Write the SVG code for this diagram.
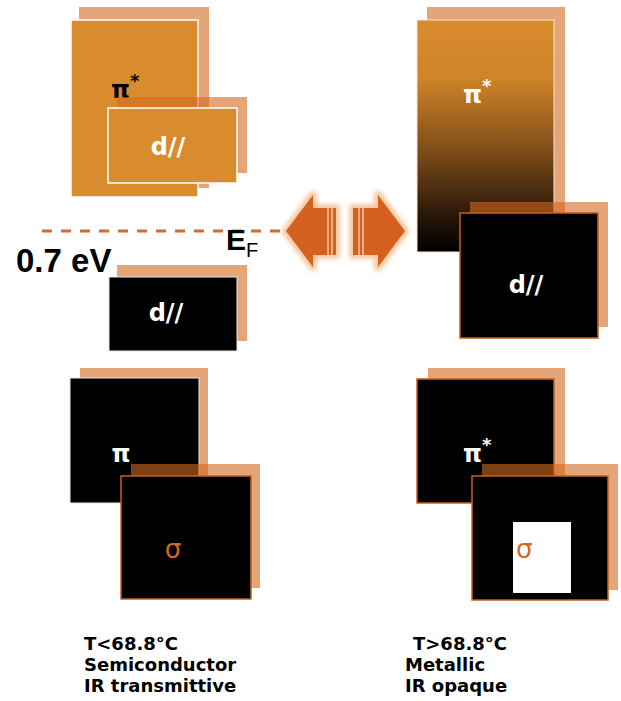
<svg xmlns="http://www.w3.org/2000/svg" width="621" height="701" viewBox="0 0 621 701">
<style>
.shadow{fill:#D2691E;fill-opacity:0.6}
.orange{fill:#D98C2D;stroke:#FFFFFF;stroke-width:1.5}
.black{fill:#000000;stroke:#E8E8E8;stroke-width:1}
.blacko{fill:#000000;stroke:#C8601A;stroke-width:1.5}
.lbl{font-family:"DejaVu Sans",sans-serif;font-weight:bold;font-size:24px;fill:#FFFFFF;text-anchor:middle}
.sig{font-family:"DejaVu Sans",sans-serif;font-size:26px;fill:#D2691E;text-anchor:middle}
.cap{font-family:"DejaVu Sans",sans-serif;font-weight:bold;font-size:18px;fill:#000000}
.arrow{fill:#D5601F}
.glow{fill:none;stroke:#F2B583;stroke-width:8;stroke-linejoin:round;opacity:0.75}
</style>
<defs>
<linearGradient id="grad" x1="0" y1="0" x2="0" y2="1">
<stop offset="0" stop-color="#DA8C2E"/>
<stop offset="0.25" stop-color="#CE8428"/>
<stop offset="0.58" stop-color="#7A4A18"/>
<stop offset="0.84" stop-color="#2A1808"/>
<stop offset="1" stop-color="#000000"/>
</linearGradient>
<filter id="blur" x="-20%" y="-20%" width="140%" height="140%">
<feGaussianBlur stdDeviation="2.2"/>
</filter>
</defs>

<g id="left-pistar">
<rect class="shadow" x="79" y="7" width="130" height="181"/>
<rect class="orange" x="71" y="20" width="127" height="177"/>
<text x="111" y="98" font-family="DejaVu Sans, sans-serif" font-weight="bold" font-size="24" fill="#000">π<tspan font-size="18" dy="-11">*</tspan></text>
</g>

<g id="left-dpar-upper">
<rect class="shadow" x="117" y="97" width="130" height="76"/>
<rect class="orange" x="108" y="108" width="129" height="75"/>
<text class="lbl" x="168" y="155">d//</text>
</g>

<g id="connectors">
<line x1="42" y1="231" x2="286" y2="231" stroke="#D66A2A" stroke-width="3" stroke-dasharray="10 9"/>
</g>

<g id="fermi-label">
<text x="226" y="250" font-family="Liberation Sans, sans-serif" font-weight="bold" font-size="30" fill="#000">E</text>
<text x="246" y="257" font-family="Liberation Sans, sans-serif" font-size="20" fill="#000">F</text>
</g>

<g id="gap-label">
<text x="16" y="272" font-family="Liberation Sans, sans-serif" font-weight="bold" font-size="33" fill="#000">0.7 eV</text>
</g>

<g id="left-dpar-lower">
<rect class="shadow" x="117" y="265" width="130" height="76"/>
<rect class="black" x="109" y="277" width="128" height="74"/>
<text class="lbl" x="166" y="321">d//</text>
</g>

<g id="arrows">
<g filter="url(#blur)">
<path class="glow" d="M286,231 L313,195 L313,208 L336,208 L336,255 L313,255 L313,267 Z"/>
<path class="glow" d="M405,231 L378,195 L378,208 L353,208 L353,255 L378,255 L378,267 Z"/>
</g>
<path class="arrow" d="M286,231 L313,195 L313,208 L336,208 L336,255 L313,255 L313,267 Z"/>
<path class="arrow" d="M405,231 L378,195 L378,208 L353,208 L353,255 L378,255 L378,267 Z"/>
<g stroke="#FBE3CF" stroke-width="1.2">
<line x1="328" y1="208" x2="328" y2="255"/>
<line x1="332" y1="208" x2="332" y2="255"/>
<line x1="359" y1="208" x2="359" y2="255"/>
<line x1="363" y1="208" x2="363" y2="255"/>
</g>
</g>

<g id="right-pistar">
<rect class="shadow" x="427" y="7" width="138" height="233"/>
<rect x="417" y="20" width="137" height="232" fill="url(#grad)" stroke="#F4E6D6" stroke-width="1"/>
<text x="463" y="103" font-family="DejaVu Sans, sans-serif" font-weight="bold" font-size="24" fill="#FFF">π<tspan font-size="18" dy="-11">*</tspan></text>
</g>

<g id="right-dpar">
<rect class="shadow" x="470" y="202" width="138" height="125"/>
<rect class="blacko" x="460" y="213" width="138" height="125"/>
<text class="lbl" x="526" y="293">d//</text>
</g>

<g id="left-pi">
<rect class="shadow" x="80" y="368" width="128" height="125"/>
<rect class="black" x="70" y="378" width="129" height="125"/>
<text x="121" y="462" font-family="DejaVu Sans, sans-serif" font-weight="bold" font-size="24" fill="#FFF" text-anchor="middle">π</text>
</g>

<g id="left-sigma">
<rect class="shadow" x="131" y="464" width="129" height="124"/>
<rect class="blacko" x="121" y="476" width="130" height="123"/>
<text class="sig" x="173" y="558">σ</text>
</g>

<g id="right-pistar-lower">
<rect class="shadow" x="428" y="368" width="137" height="124"/>
<rect class="blacko" x="417" y="379" width="137" height="124"/>
<text x="463" y="462" font-family="DejaVu Sans, sans-serif" font-weight="bold" font-size="24" fill="#FFF">π<tspan font-size="18" dy="-11">*</tspan></text>
</g>

<g id="right-sigma">
<rect class="shadow" x="482" y="464" width="136" height="126"/>
<rect class="blacko" x="472" y="476" width="136" height="124"/>
<rect x="513" y="522" width="58" height="71" fill="#FFFFFF"/>
<text x="516" y="558" font-family="DejaVu Sans, sans-serif" font-size="26" fill="#D2691E">σ</text>
</g>

<g id="caption-left">
<text class="cap" x="84" y="650">T&lt;68.8°C</text>
<text class="cap" x="84" y="671">Semiconductor</text>
<text class="cap" x="84" y="692">IR transmittive</text>
</g>

<g id="caption-right">
<text class="cap" x="413" y="650">T&gt;68.8°C</text>
<text class="cap" x="405" y="671">Metallic</text>
<text class="cap" x="405" y="692">IR opaque</text>
</g>
</svg>
